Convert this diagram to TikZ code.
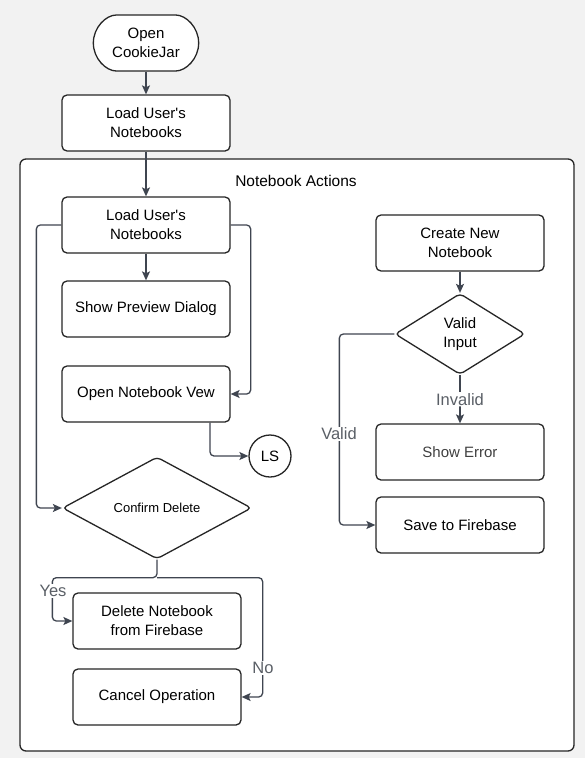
\documentclass[tikz,border=0pt]{standalone}
\usepackage{fontspec}
\setmainfont{Liberation Sans}
\usetikzlibrary{arrows.meta}
\usetikzlibrary{shapes.geometric}
\usetikzlibrary{shapes.misc}

\definecolor{pagegray}{HTML}{F2F2F2}
\definecolor{linegray}{HTML}{3F4550}
\definecolor{labelgray}{HTML}{5A5F66}

\begin{document}
\begin{tikzpicture}[x=1pt, y=-1pt,
    box/.style={draw=black!85, fill=white, line width=1.3pt, rounded corners=5pt, minimum width=168pt, minimum height=56pt, align=center, font=\fontsize{15}{19}\selectfont},
    startbox/.style={box, rounded rectangle, minimum width=112pt},
    choice/.style={draw=black!85, fill=white, line width=1.3pt, diamond, rounded corners=4pt, inner sep=0pt, align=center, font=\fontsize{15}{19}\selectfont},
    conn/.style={draw=linegray, line width=1.3pt, rounded corners=4pt, -{Stealth[length=9pt, width=8pt, inset=2pt]}},
    lbl/.style={fill=white, text=labelgray, inner sep=1pt, font=\fontsize{16.5}{18}\selectfont}]
    \fill[pagegray] (0,0) rectangle (585,758); % page
    \node[draw=black!85, fill=white, line width=1.3pt, rounded corners=6pt, minimum width=554pt, minimum height=592pt] (actions) at (297,455) {};
    \node[font=\fontsize{15.5}{17}\selectfont] (title) at (296,181) {Notebook Actions};

    \node[startbox] (open) at (146,43) {Open\\CookieJar};
    \node[box] (load) at (146,123) {Load User\textquotesingle s\\Notebooks};
    \node[box] (linner) at (146,225) {Load User\textquotesingle s\\Notebooks};
    \node[box] (preview) at (146,309) {Show Preview Dialog};
    \node[box] (view) at (146,394) {Open Notebook Vew};
    \node[circle, draw=black!85, fill=white, line width=1.3pt, minimum size=42pt, inner sep=0pt, font=\fontsize{15}{17}\selectfont] (ls) at (270,456) {LS};
    \node[choice, minimum width=189pt, minimum height=102pt, font=\fontsize{13}{15}\selectfont] (conf) at (157,508) {Confirm Delete};
    \node[box] (del) at (157,621) {Delete Notebook\\from Firebase};
    \node[box] (cancel) at (157,697) {Cancel Operation};

    \node[box] (create) at (460,243) {Create New\\Notebook};
    \node[choice, minimum width=130pt, minimum height=81pt] (valid) at (460,334) {Valid\\Input};
    \node[box, text=black!75] (err) at (460,452) {Show Error};
    \node[box] (save) at (460,525) {Save to Firebase};

    \draw[conn] (open.south) -- (load.north);
    \draw[conn] (load.south) -- (linner.north);
    \draw[conn] (linner.south) -- (preview.north);
    \draw[conn] (linner.west) -- ++(-25,0) |- (conf.west);
    \draw[conn] (linner.east) -- ++(20,0) |- (view.east);
    \draw[conn] ([xshift=64pt]view.south) |- (ls.west);
    \draw[conn] (conf.south) -- ++(0,18) coordinate (split) -| ([xshift=-20pt]del.west) -- (del.west);
    \draw[conn] (split) -| ([xshift=21pt]cancel.east) -- (cancel.east);
    \node[lbl] (yes) at (53,591) {Yes};
    \node[lbl] (no) at (263,668) {No};

    \draw[conn] (create.south) -- (valid.north);
    \draw[conn] (valid.south) -- node[lbl] (invalid) {Invalid} (err.north);
    \draw[conn] (valid.west) -- ++(-55,0) |- (save.west);
    \node[lbl] (validlbl) at (339,434) {Valid};
\end{tikzpicture}
\end{document}
